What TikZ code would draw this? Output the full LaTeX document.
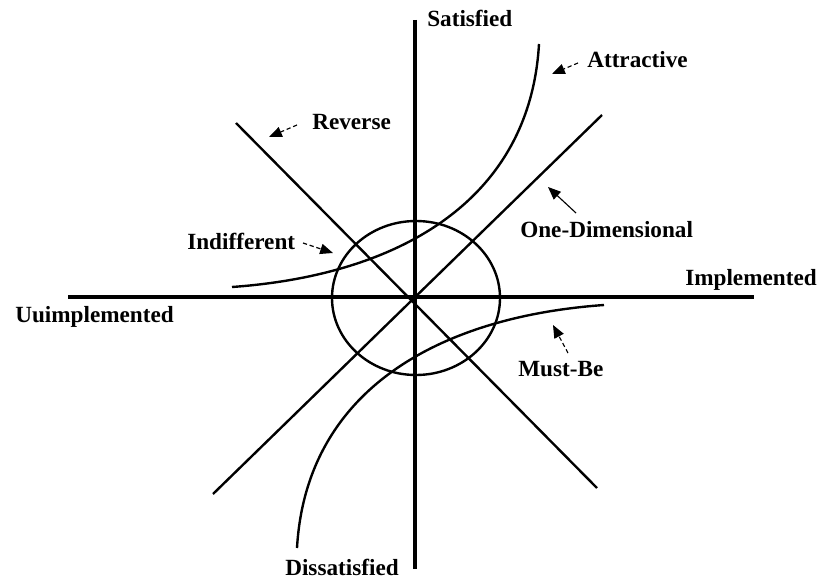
\documentclass[tikz,border=0pt]{standalone}
\usepackage{fontspec}
\setmainfont{Liberation Serif}
\usepackage{tikz}
\usetikzlibrary{arrows.meta, positioning, calc}
\tikzstyle{lbl} = [inner sep=0pt, anchor=base west, font=\bfseries\fontsize{16.5}{19}\selectfont]
\tikzstyle{axis} = [line width=2.6pt, black]
\tikzstyle{curve} = [line width=1.7pt, black]
\tikzstyle{ptr} = [-{Triangle[length=3.2mm, width=2.6mm]}, line width=0.8pt, densely dashed]

\begin{document}
\begin{tikzpicture}[x=0.025cm, y=-0.025cm]
  \useasboundingbox (0,0) rectangle (818,578);
  % Axes
  \coordinate (top) at (415,20);
  \coordinate (bottom) at (415,569);
  \coordinate (left) at (68,297);
  \coordinate (right) at (754,297);
  \coordinate (ctr) at (416,298);
  \draw[axis] (top) -- (bottom);
  \draw[axis] (left) -- (right);
  % Indifferent circle
  \draw[curve] (ctr) ellipse [x radius=84, y radius=77];
  % Reverse and one-dimensional lines
  \coordinate (revA) at (236,123);
  \coordinate (revB) at (597,488);
  \coordinate (oneA) at (213,494);
  \coordinate (oneB) at (602,115);
  \draw[curve] (revA) -- (revB);
  \draw[curve] (oneA) -- (oneB);
  % Attractive and must-be curves
  \coordinate (attA) at (232,287);
  \coordinate (attB) at (539,44);
  \coordinate (mustA) at (604,305);
  \coordinate (mustB) at (297,548);
  \draw[curve] (attA) .. controls (400,275) and (530,200) .. (attB);
  \draw[curve] (mustA) .. controls (436,317) and (306,392) .. (mustB);
  % Labels
  \node[lbl] (sat) at (427,27) {Satisfied};
  \node[lbl] (dis) at (285,575) {Dissatisfied};
  \node[lbl] (impl) at (685,285) {Implemented};
  \node[lbl] (unimpl) at (15,322) {Uuimplemented};
  \node[lbl] (attr) at (587,68) {Attractive};
  \node[lbl] (rev) at (312,130) {Reverse};
  \node[lbl] (indiff) at (187,249) {Indifferent};
  \node[lbl] (onedim) at (520,237) {One-Dimensional};
  \node[lbl] (must) at (518,376) {Must-Be};
  % Pointers
  \coordinate (attrT) at (578,63);
  \coordinate (attrH) at (552,74);
  \coordinate (revT) at (297,125);
  \coordinate (revH) at (269,137);
  \coordinate (indT) at (303,243);
  \coordinate (indH) at (333,253);
  \coordinate (oneT) at (576,213);
  \coordinate (oneH) at (548,187);
  \coordinate (mustT) at (568,353);
  \coordinate (mustH) at (553,325);
  \draw[ptr] (attrT) -- (attrH);
  \draw[ptr] (revT) -- (revH);
  \draw[ptr] (indT) -- (indH);
  \draw[ptr, solid] (oneT) -- (oneH);
  \draw[ptr] (mustT) -- (mustH);
\end{tikzpicture}
\end{document}
